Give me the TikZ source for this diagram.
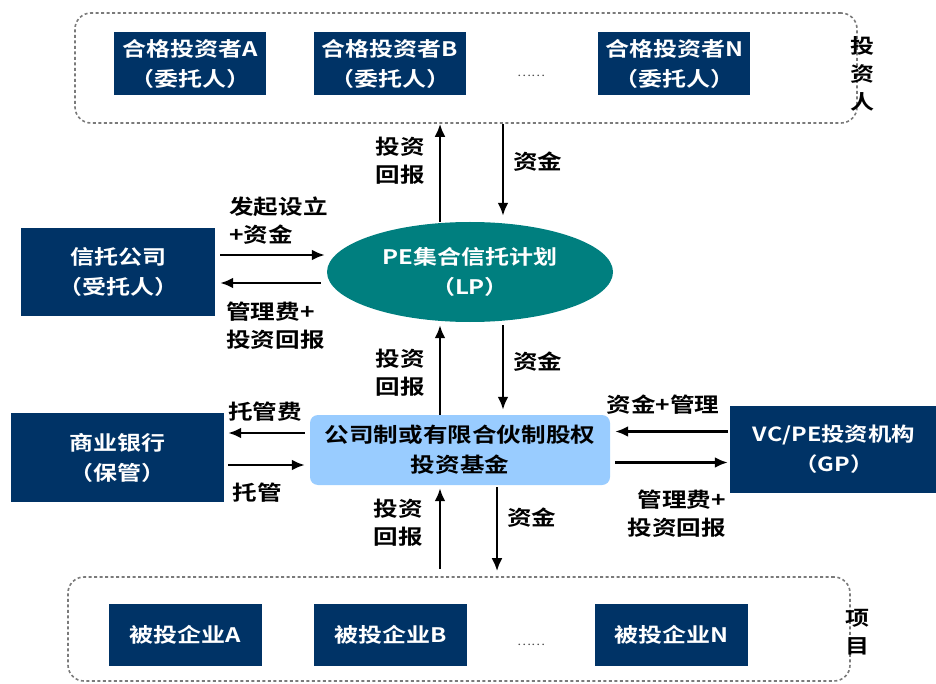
\documentclass[tikz,border=0pt]{standalone}
\usepackage{fontspec}
\setmainfont{Noto Sans CJK SC}[BoldFont={Noto Sans CJK SC Bold}, FakeStretch=1.2]
\usetikzlibrary{arrows.meta,shapes.geometric}
\definecolor{navy}{HTML}{003366}
\definecolor{tealc}{HTML}{007F7F}
\definecolor{lightblue}{HTML}{99CCFF}
\definecolor{dashgray}{HTML}{7A7A7A}
\begin{document}
\begin{tikzpicture}[x=1pt,y=-1pt,
  navybox/.style={fill=navy, text=white, font=\bfseries\fontsize{20}{30}\selectfont, align=center, inner sep=0pt},
  lbl/.style={font=\bfseries\fontsize{20.5}{28}\selectfont, inner sep=0pt},
  arr/.style={line width=2.8pt, -{Latex[length=13pt,width=11pt]}},
  dashbox/.style={draw=dashgray, line width=1.6pt, dash pattern=on 3pt off 2.5pt, rounded corners=16pt, inner sep=0pt},
  dots/.style={font=\fontsize{11}{11}\selectfont, text=black!70, inner sep=0pt}
]
\useasboundingbox (0,0) rectangle (936,684);

% investors
\node[dashbox, minimum width=782, minimum height=110] (inv) at (466,68) {};
\node[navybox, minimum width=152, minimum height=63] (ia) at (190,64) {合格投资者A\\（委托人）};
\node[navybox, minimum width=152, minimum height=63] (ib) at (390,64) {合格投资者B\\（委托人）};
\node[navybox, minimum width=152, minimum height=63] (in) at (674,64) {合格投资者N\\（委托人）};
\node[dots] (idots) at (531,76) {……};
\node[lbl, align=center, font=\bfseries\fontsize{20}{28}\selectfont] (invlabel) at (862,74) {投\\资\\人};

% LP
\node[ellipse, fill=tealc, minimum width=286, minimum height=100, inner sep=0pt, text=white, align=center, font=\bfseries\fontsize{20}{30}\selectfont] (lp) at (470,272) {PE集合信托计划\\（LP）};

% trust company
\node[navybox, minimum width=194, minimum height=88] (trust) at (118,272) {信托公司\\（受托人）};

% fund
\node[rounded corners=8pt, fill=lightblue, minimum width=300, minimum height=70, inner sep=0pt, align=center, font=\bfseries\fontsize{20.5}{30}\selectfont] (fund) at (460,450) {公司制或有限合伙制股权\\投资基金};

% bank
\node[navybox, minimum width=213, minimum height=89] (bank) at (117.5,457.5) {商业银行\\（保管）};

% VC/PE
\node[navybox, minimum width=208, minimum height=87, font=\bfseries\fontsize{19.5}{30}\selectfont] (vc) at (834,449.5) {VC/PE投资机构\\（GP）};

% projects
\node[dashbox, minimum width=782, minimum height=104] (proj) at (459,629) {};
\node[navybox, minimum width=153, minimum height=62] (pa) at (185.5,635) {被投企业A};
\node[navybox, minimum width=153, minimum height=62] (pb) at (390.5,635) {被投企业B};
\node[navybox, minimum width=153, minimum height=62] (pn) at (671.5,635) {被投企业N};
\node[dots] (pdots) at (531,645) {……};
\node[lbl, align=center, font=\bfseries\fontsize{20}{28}\selectfont] (projlabel) at (857,632) {项\\目};

% investors <-> LP
\draw[arr, shorten >=0pt] ([xshift=-30pt]lp.north) -- ([xshift=-30pt]lp.north |- inv.south);
\draw[arr, shorten >=6pt] ([xshift=33pt]lp.north |- inv.south) -- ([xshift=33pt]lp.north);
\node[lbl, align=left, anchor=east] (l1) at (425,161) {投资\\回报};
\node[lbl, anchor=west] (l2) at (513,162) {资金};

% trust <-> LP
\draw[arr, shorten <=5pt, shorten >=2pt] ([yshift=17pt]trust.east) -- ([yshift=17pt]lp.west);
\draw[arr, shorten <=6pt, shorten >=5pt] ([yshift=-11pt]lp.west) -- ([yshift=-11pt]trust.east);
\node[lbl, align=left, anchor=west] (l3) at (229,221) {发起设立\\+资金};
\node[lbl, align=left, anchor=west] (l4) at (226,326) {管理费+\\投资回报};

% LP <-> fund
\draw[arr, shorten >=3pt] ([xshift=-20pt]fund.north) -- ([xshift=-20pt]fund.north |- lp.south);
\draw[arr, shorten <=3pt, shorten >=5pt] ([xshift=43pt]fund.north |- lp.south) -- ([xshift=43pt]fund.north);
\node[lbl, align=left, anchor=east] (l5) at (425,373) {投资\\回报};
\node[lbl, anchor=west] (l6) at (513,362) {资金};

% bank <-> fund
\draw[arr, shorten <=5pt, shorten >=4pt] ([yshift=17pt]fund.west) -- ([yshift=17pt]fund.west -| bank.east);
\draw[arr, shorten <=4pt, shorten >=5pt] ([yshift=-15pt]fund.west -| bank.east) -- ([yshift=-15pt]fund.west);
\node[lbl] (l7) at (265,412) {托管费};
\node[lbl] (l8) at (257,493) {托管};

% VC <-> fund
\draw[arr, shorten <=2pt, shorten >=5pt] ([yshift=18pt]vc.west) -- ([yshift=18pt]vc.west -| fund.east);
\draw[arr, shorten <=5pt, shorten >=2pt] ([yshift=-13pt]vc.west -| fund.east) -- ([yshift=-13pt]vc.west);
\node[lbl] (l9) at (663,405) {资金+管理};
\node[lbl, align=right, anchor=east] (l10) at (726,514) {管理费+\\投资回报};

% fund <-> projects
\draw[arr, shorten <=7pt, shorten >=3pt] ([xshift=-20pt]fund.south |- proj.north) -- ([xshift=-20pt]fund.south);
\draw[arr, shorten <=2pt, shorten >=5pt] ([xshift=37pt]fund.south) -- ([xshift=37pt]fund.south |- proj.north);
\node[lbl, align=left, anchor=east] (l11) at (423,523) {投资\\回报};
\node[lbl, anchor=west] (l12) at (507,518) {资金};
\end{tikzpicture}
\end{document}
